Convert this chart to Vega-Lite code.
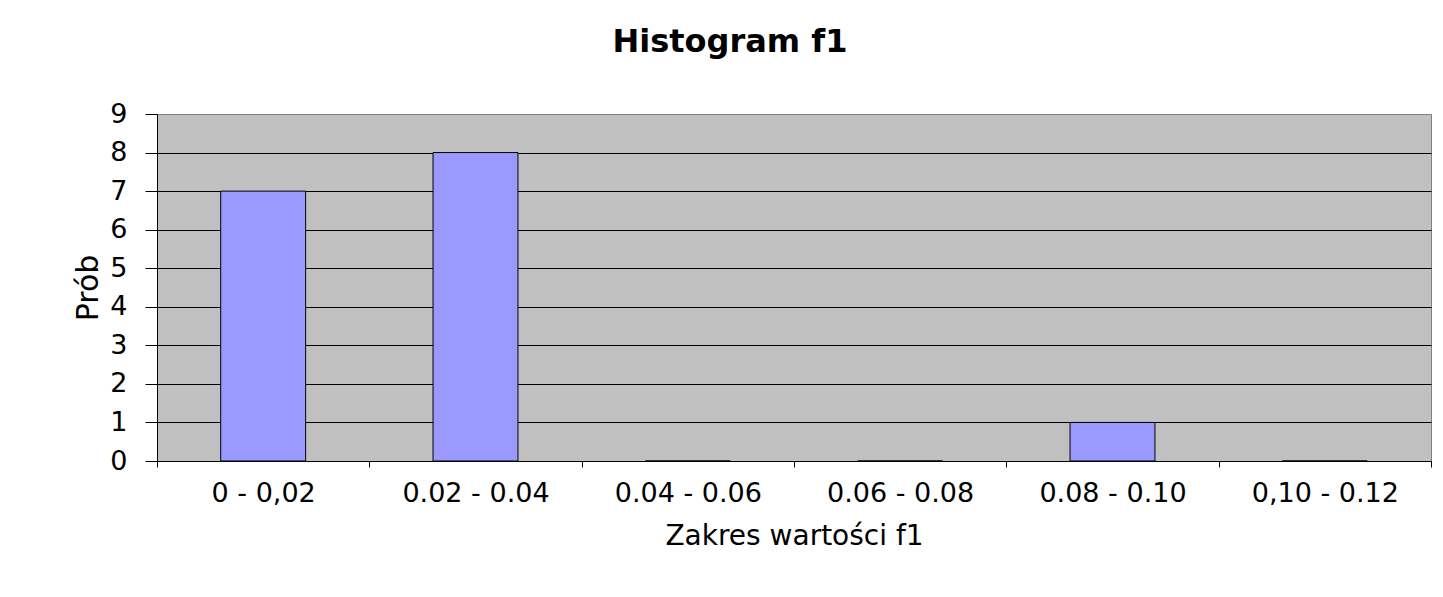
{
  "$schema": "https://vega.github.io/schema/vega-lite/v6.json",
  "width": 1274,
  "height": 347,
  "autosize": {"type": "none"},
  "padding": {"left": 157, "top": 114, "right": 12, "bottom": 136},
  "background": "#ffffff",
  "config": {
    "font": "DejaVu Sans",
    "view": {"fill": "#C0C0C0", "stroke": "#808080", "strokeWidth": 1}
  },
  "title": {
    "text": "Histogram f1",
    "font": "DejaVu Sans",
    "fontSize": 32,
    "fontWeight": "bold",
    "color": "#000000",
    "anchor": "middle",
    "frame": "group",
    "dx": -64,
    "baseline": "alphabetic",
    "offset": 16
  },
  "data": {
    "values": [
      {"zakres": "0 - 0,02", "prob": 7},
      {"zakres": "0.02 - 0.04", "prob": 8},
      {"zakres": "0.04 - 0.06", "prob": 0},
      {"zakres": "0.06 - 0.08", "prob": 0},
      {"zakres": "0.08 - 0.10", "prob": 1},
      {"zakres": "0,10 - 0.12", "prob": 0}
    ]
  },
  "mark": {"type": "bar", "color": "#9999FF", "stroke": "#000000", "strokeWidth": 1, "width": {"band": 0.4}},
  "encoding": {
    "x": {
      "field": "zakres",
      "type": "nominal",
      "sort": null,
      "scale": {"paddingInner": 0, "paddingOuter": 0},
      "axis": {
        "title": "Zakres wartości f1",
        "titleFont": "DejaVu Sans",
        "titleFontSize": 28,
        "titleFontWeight": "normal",
        "titleColor": "#000000",
        "titlePadding": 16,
        "labelFont": "DejaVu Sans",
        "labelFontSize": 27,
        "labelColor": "#000000",
        "labelAngle": 0,
        "labelPadding": 13,
        "tickBand": "extent",
        "tickSize": 6,
        "tickColor": "#000000",
        "domainColor": "#000000",
        "grid": false
      }
    },
    "y": {
      "field": "prob",
      "type": "quantitative",
      "scale": {"domain": [0, 9], "nice": false},
      "axis": {
        "title": "Prób",
        "titleFont": "DejaVu Sans",
        "titleFontSize": 30,
        "titleFontWeight": "normal",
        "titleColor": "#000000",
        "titlePadding": 6,
        "values": [0, 1, 2, 3, 4, 5, 6, 7, 8, 9],
        "labelFont": "DejaVu Sans",
        "labelFontSize": 27,
        "labelColor": "#000000",
        "labelPadding": 18,
        "tickSize": 12,
        "tickColor": "#000000",
        "domainColor": "#000000",
        "grid": true,
        "gridColor": {"condition": {"test": "datum.value === 9", "value": "#808080"}, "value": "#000000"},
        "gridOpacity": 1,
        "gridWidth": 1
      }
    }
  }
}
